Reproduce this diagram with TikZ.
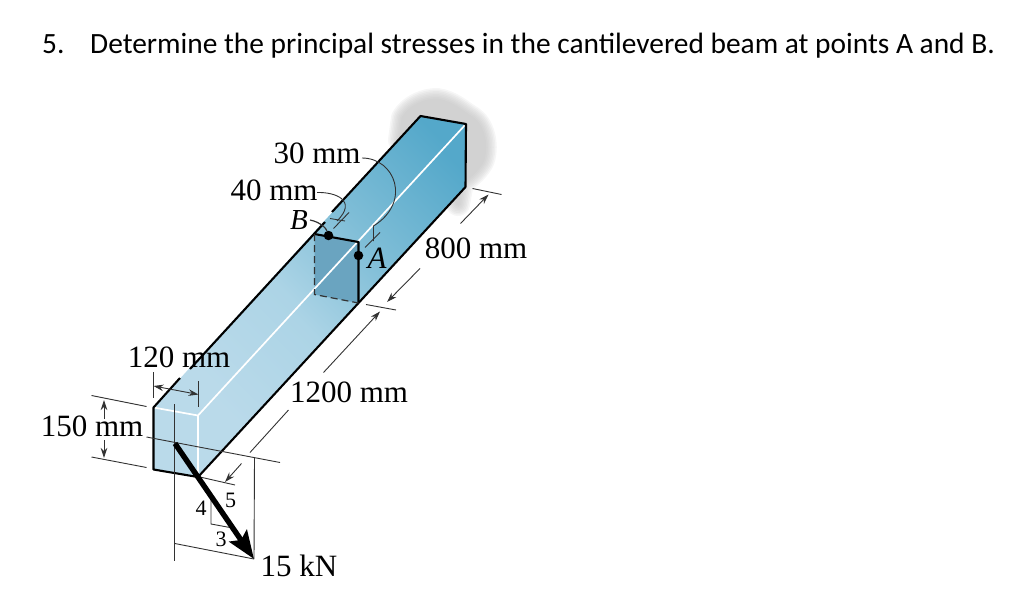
\documentclass[tikz,border=0pt]{standalone}
\usepackage{fontspec}
\setmainfont{Liberation Serif}
\newfontfamily\headfont{Carlito}
\usetikzlibrary{arrows.meta}
\definecolor{beamfar}{RGB}{84,168,202}
\definecolor{beamupper}{RGB}{128,190,215}
\definecolor{beammid}{RGB}{172,212,230}
\definecolor{beamnear}{RGB}{186,218,234}
\definecolor{cutface}{RGB}{106,164,192}
\definecolor{dimgray}{RGB}{50,50,50}
\pgfdeclareverticalshading{beamshade}{100bp}{color(0bp)=(beamnear); color(25bp)=(beamnear); color(44bp)=(beammid); color(60bp)=(beamupper); color(80bp)=(beamfar); color(100bp)=(beamfar)}
\tikzset{
  beamedge/.style = {draw=black, line width=2.1pt, line join=round},
  whiteedge/.style = {draw=white, line width=1.7pt},
  dimline/.style = {draw=dimgray, line width=0.9pt},
  dimarrow/.style = {dimline, -{Stealth[length=10pt,width=6.5pt]}},
  beamlabel/.style = {anchor=base, inner sep=0pt, font=\fontsize{31}{33}\selectfont},
  slopelabel/.style = {anchor=base, inner sep=0pt, font=\fontsize{22}{24}\selectfont},
  pointdot/.style = {circle, fill=black, inner sep=0pt, minimum size=9.5pt},
  headline/.style = {anchor=base west, inner sep=0pt, font=\headfont\fontsize{29.4}{31}\selectfont}
}
\begin{document}
\begin{tikzpicture}[x=1pt, y=-1pt]
  \useasboundingbox (0,0) rectangle (1024,607);
  % beam corners
  \coordinate (tl) at (153.5,407.5);
  \coordinate (tr) at (198,415.5);
  \coordinate (br) at (198,477);
  \coordinate (bl) at (153.5,469.5);
  \coordinate (farl) at (420.5,116);
  \coordinate (farr) at (466,124);
  \coordinate (farb) at (465.5,187);
  \coordinate (cuttl) at (314.5,234);
  \coordinate (cuttr) at (358.5,242);
  \coordinate (cutbr) at (358.5,303);
  \coordinate (cutbl) at (314.5,294.5);
  % wall behind the beam
  \foreach \w in {24,21,18,15,12,9,6,3} {
    \begin{scope}[transparency group, opacity=.14]
      \draw[line width=\w pt, draw=gray!50, fill=gray!50, line join=round]
        (403,118) .. controls (410,106) and (425,100) .. (437,100)
        .. controls (452,102) and (462,112) .. (472,118)
        .. controls (484,126) and (488,148) .. (482,162)
        .. controls (476,172) and (468,178) .. (462,182)
        -- (458,204) -- (440,180) -- (400,140) -- cycle;
    \end{scope}
  }
  % faces
  \shade[shading=beamshade, shading angle=-45] (tl) -- (tr) -- (farr) -- (farl) -- cycle;
  \shade[shading=beamshade, shading angle=-45] (tr) -- (farr) -- (farb) -- (br) -- cycle;
  \fill[beamnear] (tl) -- (tr) -- (br) -- (bl) -- cycle;
  \fill[cutface] (cuttl) -- (cuttr) -- (cutbr) -- (cutbl) -- cycle;
  % edges
  \draw[whiteedge] (tr) -- (farr);
  \draw[whiteedge] (tl) -- (tr) -- (br);
  \draw[beamedge] (br) -- (farb) -- (farr) -- (farl) -- (332,212);
  \draw[beamedge] (325,222) -- (190,369);
  \draw[beamedge] (180,378) -- (tl) -- (bl) -- (br);
  \draw[beamedge] (cuttl) -- (cuttr) -- (cutbr);
  \draw[dimline, line width=1.2pt, dash pattern=on 7pt off 4pt] (cuttl) -- (cutbl) -- (cutbr);
  % dimension 120 mm
  \draw[dimline] (153.5,372) coordinate (a1) -- (153.5,398);
  \draw[dimline] (198.5,381) coordinate (a2) -- (198.5,407);
  \coordinate (a3) at (153.5,386);
  \coordinate (a4) at (198.5,394.5);
  \draw[dimarrow, {Stealth[length=10pt,width=6.5pt]}-{Stealth[length=10pt,width=6.5pt]}] (a3) -- (a4);
  % dimension 150 mm
  \coordinate (b1) at (91.5,395.5);
  \coordinate (b2) at (146.5,406.5);
  \coordinate (b3) at (91.5,457);
  \coordinate (b4) at (146.5,467.5);
  \draw[dimline] (b1) -- (b2);
  \draw[dimline] (b3) -- (b4);
  \draw[dimarrow] (104,419) -- (104,400);
  \draw[dimarrow] (104,440) -- (104,458);
  % load lines
  \coordinate (c1) at (146.5,437);
  \coordinate (c2) at (280,462.5);
  \coordinate (load) at (175,443.5);
  \coordinate (tip) at (254,559);
  \draw[dimline] (c1) -- (c2);
  \draw[dimline] (174.8,404) -- (174.8,561);
  \draw[dimline] (174.8,543.5) -- (tip);
  \draw[dimline] (254.5,458) -- (tip);
  \draw[dimline] (200,477) -- (235,485);
  % slope triangle
  \draw[dimline] (211,498) -- (211,524) -- (230,527.5);
  \node[slopelabel] (four) at (201,515.5) {4};
  \node[slopelabel] (five) at (230.5,507.5) {5};
  \node[slopelabel] (three) at (221,546) {3};
  % dimension 1200 mm
  \draw[dimarrow] (241.5,463.5) -- (225,482);
  \draw[dimline] (250,452.5) -- (288.5,410);
  \draw[dimarrow] (323.5,372.5) -- (380,311.5);
  \draw[dimline] (366,304.5) -- (396,310);
  \draw[dimarrow] (420,268.5) -- (387,302);
  % dimension 800 mm
  \draw[dimarrow] (460.5,223.5) -- (488.5,194.5);
  \draw[dimline] (472.5,188.5) -- (501.5,194.5);
  % load arrow
  \draw[line width=5.4pt, -{Stealth[length=28pt,width=21pt,inset=5pt]}] (load) -- (tip);
  % points and leaders
  \node[pointdot] (ptA) at (358.5,255.5) {};
  \node[pointdot] (ptB) at (328.5,235.5) {};
  \node[beamlabel] (lab30) at (317,163) {30 mm};
  \node[beamlabel] (lab40) at (274,200.5) {40 mm};
  \node[beamlabel, font=\fontsize{29}{31}\itshape] (labB) at (299,229) {B};
  \node[beamlabel, font=\fontsize{31}{33}\itshape] (labA) at (377,268) {A};
  \node[beamlabel] (lab800) at (476,258) {800 mm};
  \node[beamlabel] (lab120) at (179,367) {120 mm};
  \node[beamlabel] (lab150) at (92,436) {150 mm};
  \node[beamlabel] (lab1200) at (349,402) {1200 mm};
  \node[beamlabel] (lab15) at (299,576) {15 kN};
  \draw[dimline] (362,158) .. controls (395,158) and (412,202) .. (373.5,226) -- (373.5,241);
  \draw[dimline] (365,247.5) -- (380,232.5);
  \draw[dimline] (317,192.5) .. controls (335,192) and (358,200) .. (337,221);
  \draw[dimline] (330,218.5) -- (345,221);
  \draw[dimline] (333.5,228.5) -- (349,212.5);
  \draw[dimline, line width=1.2pt] (310,220) .. controls (320,222) and (326,228) .. (ptB);
  % heading
  \node[headline] (num) at (42,54) {5.};
  \node[headline] (question) at (90,54) {Determine the principal stresses in the cantilevered beam at points A and B.};
\end{tikzpicture}
\end{document}
